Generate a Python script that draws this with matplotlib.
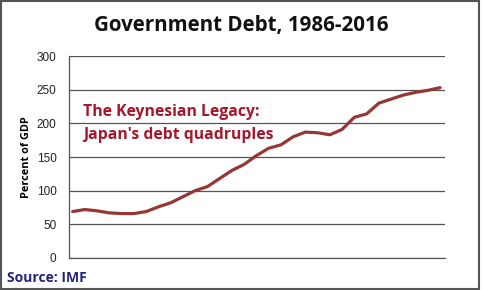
import matplotlib
matplotlib.use("Agg")
import matplotlib.pyplot as plt
from matplotlib.patches import Rectangle

years = list(range(1986, 2017))
debt = [69, 72, 70, 67, 66, 66, 69, 76, 82, 91, 100, 106, 118, 130, 139,
        152, 163, 168, 180, 187, 186, 183, 191, 209, 214, 230, 236, 242, 246, 249, 253]
yticks = [0, 50, 100, 150, 200, 250, 300]

fig = plt.figure(figsize=(4.82, 2.90), dpi=100)
ax = fig.add_axes([69/482, 1-258/290, (445-69)/482, (258-56)/290])

ax.plot(years, debt, color="#953735", lw=2.3, solid_capstyle="round", solid_joinstyle="round")
ax.set_ylim(0, 300)
ax.set_xlim(years[0]-0.3, years[-1]+0.4)
ax.set_yticks(yticks)
ax.set_yticklabels([str(v) for v in yticks], fontsize=8.5, family="Liberation Sans", color="#222222")
ax.set_xticks([])
ax.tick_params(axis="y", length=0, pad=9)
ax.grid(axis="y", color="#555555", lw=0.9)
ax.set_axisbelow(True)
for s in ["top", "right"]:
    ax.spines[s].set_visible(False)
ax.spines["left"].set_color("#555555")
ax.spines["bottom"].set_color("#555555")
ax.spines["left"].set_linewidth(0.9)
ax.spines["bottom"].set_linewidth(0.9)

ax.set_ylabel("Percent of GDP", fontsize=7.8, fontweight="bold", family="Open Sans", labelpad=3)

fig.text(0.5, 1-25/290, "Government Debt, 1986-2016", ha="center", va="center",
         fontsize=14.8, fontweight="bold", family="Open Sans", color="#111111")

fig.text(83/482, 1-112/290, "The Keynesian Legacy:", ha="left", va="center",
         fontsize=11.3, fontweight="bold", family="Open Sans", color="#A5172B")
fig.text(83/482, 1-135/290, "Japan's debt quadruples", ha="left", va="center",
         fontsize=11.3, fontweight="bold", family="Open Sans", color="#A5172B")

fig.text(7/482, 1-278/290, "Source: IMF", ha="left", va="center",
         fontsize=10, fontweight="bold", family="Open Sans", color="#24247F")

fig.patches.append(Rectangle((0.5/482, 1-289/290), 478.5/482, 288.5/290, transform=fig.transFigure,
                             fill=False, edgecolor="#555555", lw=1.5))

fig.savefig("out.png", dpi=100)
